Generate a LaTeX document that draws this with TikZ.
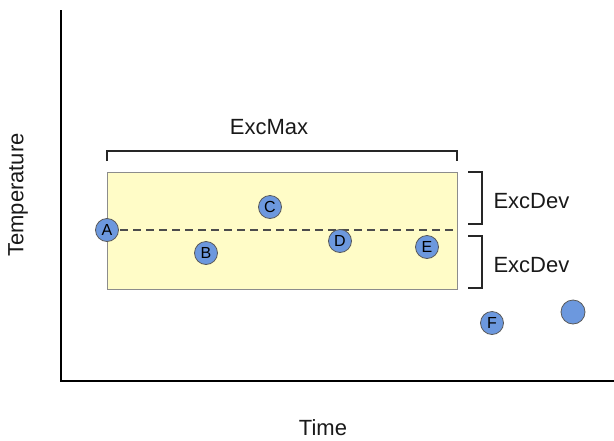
\documentclass[tikz,border=0pt]{standalone}
\usepackage{fontspec}
\setmainfont{Liberation Sans}
\begin{document}
\begin{tikzpicture}[x=1pt,y=-1pt,
  axis/.style={line width=2.6pt,black},
  band/.style={draw=black!45,fill=yellow!22,line width=0.8pt},
  brace/.style={line width=1.2pt,black!85},
  pt/.style={circle,draw=black!65,fill={rgb,255:red,108;green,152;blue,222},line width=0.8pt,minimum size=23pt,inner sep=0pt,font=\fontsize{16}{17}\selectfont},
  lab/.style={font=\fontsize{22}{25}\selectfont,text=black!90}]
\useasboundingbox (0,0) rectangle (614,440);
\coordinate (ytop) at (61,10);
\coordinate (orig) at (61,381);
\coordinate (xend) at (614,381);
\draw[axis] (ytop) -- (orig) -- (xend);
\node[band,minimum width=350pt,minimum height=117pt,inner sep=0pt,anchor=north west] (box) at (107,172) {};
\coordinate (dl) at (107,230);
\coordinate (dr) at (457,230);
\draw[black!70,line width=1.1pt,dash pattern=on 8pt off 5pt] (dl) -- (dr);
% top bracket
\coordinate (t1) at (107,161);
\coordinate (t2) at (107,151);
\coordinate (t3) at (457,151);
\coordinate (t4) at (457,161);
\draw[brace] (t1) -- (t2) -- (t3) -- (t4);
\node[lab] (excmax) at (269,127) {ExcMax};
% right brackets
\coordinate (r1) at (468,172);
\coordinate (r2) at (482,172);
\coordinate (r3) at (482,224);
\coordinate (r4) at (468,224);
\draw[brace] (r1) -- (r2) -- (r3) -- (r4);
\coordinate (s1) at (468,236);
\coordinate (s2) at (482,236);
\coordinate (s3) at (482,288);
\coordinate (s4) at (468,288);
\draw[brace] (s1) -- (s2) -- (s3) -- (s4);
\node[lab,anchor=west] (dev1) at (490,201) {ExcDev};
\node[lab,anchor=west] (dev2) at (490,265) {ExcDev};
% points
\node[pt] (A) at (107,230) {A};
\node[pt] (B) at (206,253) {B};
\node[pt] (C) at (270,207) {C};
\node[pt] (D) at (340,241) {D};
\node[pt] (E) at (427,247) {E};
\node[pt] (F) at (492,323) {F};
\node[pt,minimum size=24pt] (G) at (573,312) {};
% axis labels
\node[lab,rotate=90] (temp) at (18,195) {Temperature};
\node[lab] (time) at (323,428) {Time};
\end{tikzpicture}
\end{document}
